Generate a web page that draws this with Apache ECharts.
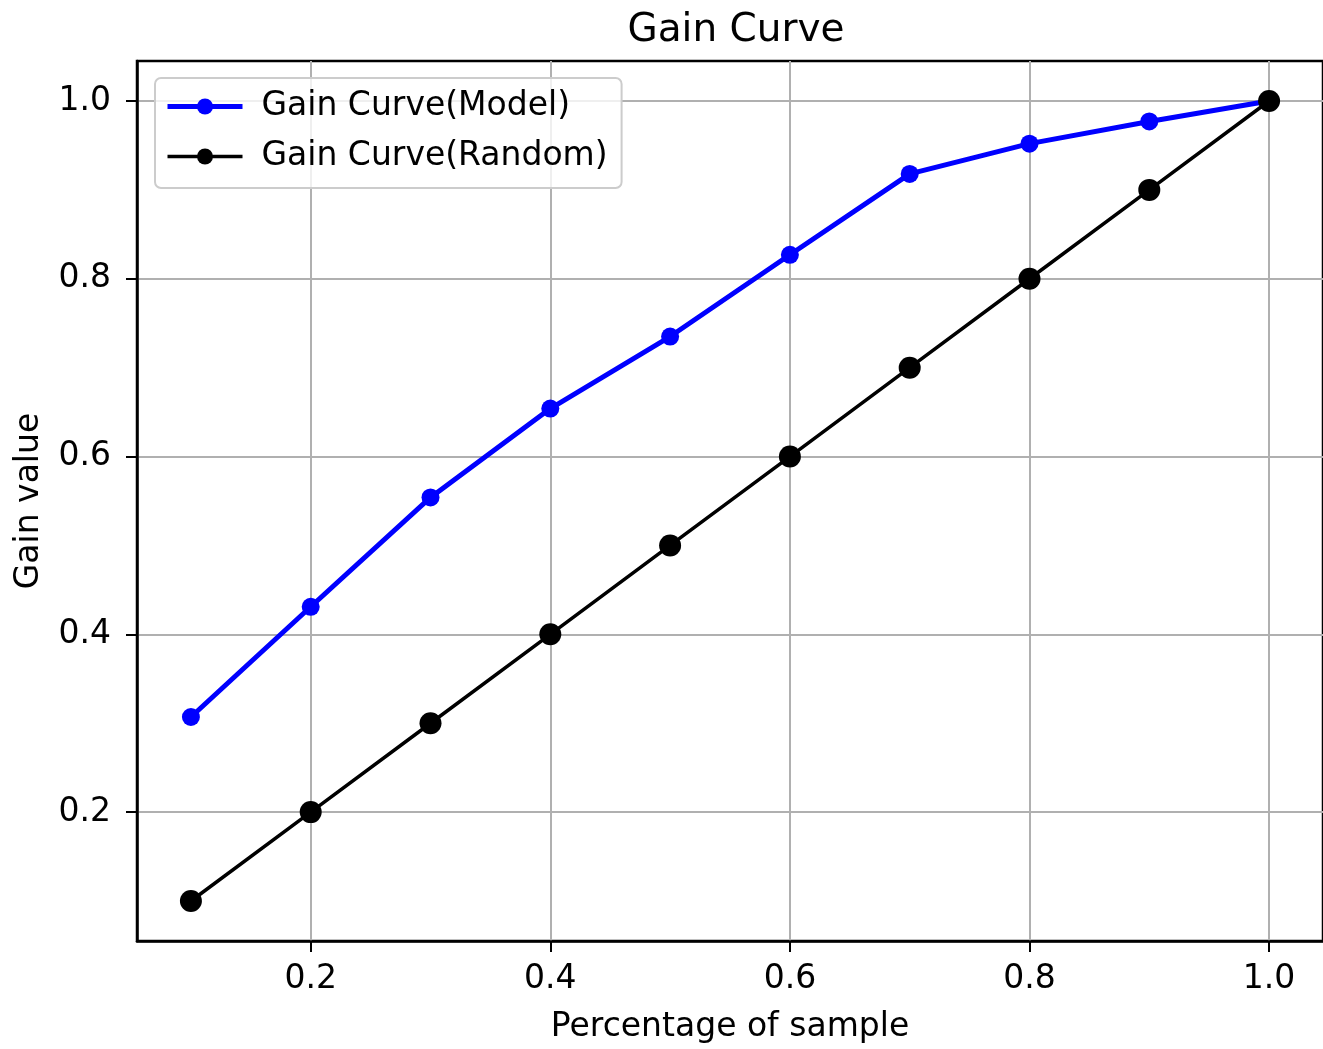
<!DOCTYPE html>
<html>
<head>
<meta charset="utf-8">
<script src="https://cdn.jsdelivr.net/npm/echarts@6/dist/echarts.min.js"></script>
<style>html,body{margin:0;padding:0;background:#fff;}#c{width:1323px;height:1049px;}</style>
</head>
<body>
<div id="c"></div>
<script>
const xValues = [0.1, 0.2, 0.3, 0.4, 0.5, 0.6, 0.7, 0.8, 0.9, 1.0];
const modelGain = [0.307, 0.431, 0.554, 0.654, 0.735, 0.827, 0.918, 0.952, 0.977, 1.0];
const randomGain = [0.1, 0.2, 0.3, 0.4, 0.5, 0.6, 0.7, 0.8, 0.9, 1.0];
const tickValues = [0.2, 0.4, 0.6, 0.8, 1.0];

const FONT = 'DejaVu Sans';
const chart = echarts.init(document.getElementById('c'));
const pairs = (ys) => xValues.map((x, i) => [x, ys[i]]);

chart.setOption({
  animation: false,
  backgroundColor: '#fff',
  title: {
    text: 'Gain Curve', left: 731, top: 6, textAlign: 'center',
    textStyle: { fontFamily: FONT, fontSize: 39, fontWeight: 'normal', color: '#000' }
  },
  legend: {
    left: 155, top: 78, orient: 'vertical',
    itemWidth: 75, itemHeight: 20, itemGap: 17,
    padding: [12, 14, 15, 10],
    backgroundColor: 'rgba(255,255,255,0.8)',
    borderColor: '#cccccc', borderWidth: 2, borderRadius: 6,
    textStyle: { fontFamily: FONT, fontSize: 33, color: '#000', padding: [0, 0, 0, 14] },
    data: [
      { name: 'Gain Curve(Model)', lineStyle: { width: 5, color: '#0000ff' }, itemStyle: { color: '#0000ff' } },
      { name: 'Gain Curve(Random)', lineStyle: { width: 3.5, color: '#000' }, itemStyle: { color: '#000' } }
    ]
  },
  grid: {
    left: 137, top: 61, width: 1188, height: 886,
    show: true, borderColor: '#000', borderWidth: 2.5, backgroundColor: 'transparent'
  },
  xAxis: {
    type: 'value', min: 0.055, max: 1.045, splitNumber: 5,
    name: 'Percentage of sample', nameLocation: 'middle', nameGap: 70,
    nameTextStyle: { fontFamily: FONT, fontSize: 33, color: '#000' },
    axisLine: { show: true, lineStyle: { color: '#000', width: 2.5 } },
    axisTick: { show: true, length: 11, lineStyle: { color: '#000', width: 2 }, customValues: tickValues },
    axisLabel: { fontFamily: FONT, fontSize: 33, color: '#000', margin: 22, customValues: tickValues,
      formatter: v => v.toFixed(1) },
    splitLine: { show: true, lineStyle: { color: '#b0b0b0', width: 2 } }
  },
  yAxis: {
    type: 'value', min: 0.055, max: 1.045, splitNumber: 5,
    name: 'Gain value', nameLocation: 'middle', nameGap: 91,
    nameTextStyle: { fontFamily: FONT, fontSize: 33, color: '#000' },
    axisLine: { show: true, lineStyle: { color: '#000', width: 2.5 } },
    axisTick: { show: true, length: 11, lineStyle: { color: '#000', width: 2 }, customValues: tickValues },
    axisLabel: { fontFamily: FONT, fontSize: 33, color: '#000', margin: 26, customValues: tickValues,
      formatter: v => v.toFixed(1) },
    splitLine: { show: true, lineStyle: { color: '#b0b0b0', width: 2 } }
  },
  series: [
    {
      name: 'Gain Curve(Model)', type: 'line', data: pairs(modelGain),
      symbol: 'circle', symbolSize: 18, showAllSymbol: true,
      lineStyle: { color: '#0000ff', width: 5 },
      itemStyle: { color: '#0000ff' }, z: 3
    },
    {
      name: 'Gain Curve(Random)', type: 'line', data: pairs(randomGain),
      symbol: 'circle', symbolSize: 22, showAllSymbol: true,
      lineStyle: { color: '#000', width: 3.5 },
      itemStyle: { color: '#000' }, z: 4
    }
  ]
});
</script>
</body>
</html>
